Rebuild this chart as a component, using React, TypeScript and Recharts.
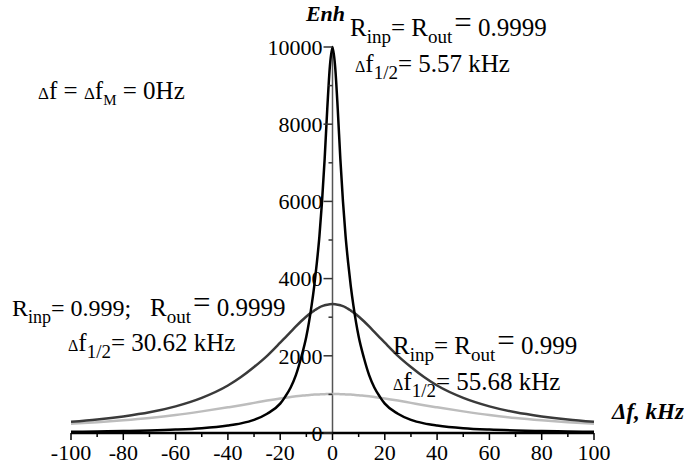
import { LineChart, Line, XAxis, YAxis, ReferenceLine } from "recharts";

// detuning, kHz
const freq = [
  -100, -90, -80, -70, -60, -50, -40, -35, -30, -25, -20, -18, -16, -14, -12, -10, -8, -7, -6, -5, -4, -3, -2, -1,
  0, 1, 2, 3, 4, 5, 6, 7, 8, 10, 12, 14, 16, 18, 20, 25, 30, 35, 40, 50, 60, 70, 80, 90, 100,
];

// Rinp = Rout = 0.9999
const enhHigh = [
  32, 40, 50, 65, 88, 125, 195, 250, 340, 500, 760, 950, 1180, 1500, 1950, 2500, 3300, 3800, 4400, 5100, 6000, 7100, 8400, 9500,
  10000, 9500, 8400, 7100, 6000, 5100, 4400, 3800, 3300, 2500, 1950, 1500, 1180, 950, 760, 500, 340, 250, 195, 125, 88, 65, 50, 40, 32,
];

// Rinp = 0.999, Rout = 0.9999
const enhMixed = [
  290, 350, 430, 535, 690, 910, 1230, 1450, 1710, 2000, 2340, 2480, 2620, 2760, 2895, 3020, 3125, 3170, 3215, 3255, 3285, 3310, 3325, 3335,
  3340, 3335, 3325, 3310, 3285, 3255, 3215, 3170, 3125, 3020, 2895, 2760, 2620, 2480, 2340, 2000, 1710, 1450, 1230, 910, 690, 535, 430, 350, 290,
];

// Rinp = Rout = 0.999
const enhLow = [
  240, 280, 330, 390, 465, 560, 665, 720, 780, 840, 895, 915, 935, 950, 965, 980, 990, 995, 998, 1000, 1003, 1006, 1008, 1009,
  1010, 1009, 1008, 1006, 1003, 1000, 998, 995, 990, 980, 965, 950, 935, 915, 895, 840, 780, 720, 665, 560, 465, 390, 330, 280, 240,
];

const xTicks = [-100, -90, -80, -70, -60, -50, -40, -30, -20, -10, 0, 10, 20, 30, 40, 50, 60, 70, 80, 90, 100];
const yTicks = [0, 1000, 2000, 3000, 4000, 5000, 6000, 7000, 8000, 9000, 10000];

const data = freq.map((f, i) => ({ f, high: enhHigh[i], mixed: enhMixed[i], low: enhLow[i] }));

const W = 684;
const H = 465;
const margin = { top: 47, right: 90, bottom: 0, left: 70 };
const Y_AXIS_W = 1;
const AXIS_X = margin.left + Y_AXIS_W + (W - margin.left - Y_AXIS_W - margin.right) / 2;
const SERIF = "Liberation Serif";

const XTick = ({ x, y, payload }: any) => {
  const major = payload.value % 20 === 0;
  return (
    <g>
      <line x1={x} x2={x} y1={y} y2={y + (major ? 7 : 4)} stroke="#000" strokeWidth={1.5} />
      {major && (
        <text x={x} y={y + 27} textAnchor="middle" fontSize={22} style={{ fontFamily: SERIF }} fill="#000">
          {payload.value}
        </text>
      )}
    </g>
  );
};

const YTick = ({ y, payload }: any) => {
  const major = payload.value % 2000 === 0;
  return (
    <g>
      <line x1={AXIS_X - (major ? 9 : 4)} x2={AXIS_X} y1={y} y2={y} stroke="#333" strokeWidth={1.5} />
      {major && (
        <text x={AXIS_X - 10} y={y} dy="0.35em" textAnchor="end" fontSize={22} style={{ fontFamily: SERIF }} fill="#000">
          {payload.value}
        </text>
      )}
    </g>
  );
};

// "Δf" followed by a subscript
const DeltaF = ({ sub }: { sub: string }) => (
  <>
    <tspan fontSize={16}>Δ</tspan>f<tspan fontSize={19} dy={7}>{sub}</tspan>
  </>
);

function Notes() {
  return (
    <svg width={W} height={H} style={{ position: "absolute", left: 0, top: 0, pointerEvents: "none", fontFamily: SERIF }} fill="#000">
      <text x={AXIS_X - 7} y={21} textAnchor="middle" fontSize={22} fontWeight="bold" fontStyle="italic">Enh</text>
      <text x={612} y={419} fontSize={23} fontWeight="bold" fontStyle="italic">Δf, kHz</text>

      <text x={350} y={36} fontSize={25}>
        R<tspan fontSize={19} dy={7}>inp</tspan>
        <tspan dy={-7}>= R</tspan>
        <tspan fontSize={19} dy={7}>out</tspan>
        <tspan fontSize={31} dy={-10} dx={2}>=</tspan>
        <tspan dy={3}> 0.9999</tspan>
      </text>
      <text x={355} y={72} fontSize={25}>
        <DeltaF sub="1/2" />
        <tspan dy={-7}>= 5.57 kHz</tspan>
      </text>

      <text x={38} y={99} fontSize={25}>
        <tspan fontSize={17}>Δ</tspan>f = <tspan fontSize={17}>Δ</tspan>f<tspan fontSize={15} dy={6}>M</tspan>
        <tspan dy={-6}> = 0Hz</tspan>
      </text>

      <text x={12} y={316} fontSize={24}>
        R<tspan fontSize={18} dy={7}>inp</tspan>
        <tspan dy={-7}>= 0.999;</tspan>
      </text>
      <text x={150} y={316} fontSize={25}>
        R<tspan fontSize={19} dy={7}>out</tspan>
        <tspan fontSize={31} dy={-10} dx={2}>=</tspan>
        <tspan dy={3}> 0.9999</tspan>
      </text>
      <text x={68} y={351} fontSize={25}>
        <DeltaF sub="1/2" />
        <tspan dy={-7}>= 30.62 kHz</tspan>
      </text>

      <text x={393} y={354} fontSize={25}>
        R<tspan fontSize={19} dy={7}>inp</tspan>
        <tspan dy={-7}>= R</tspan>
        <tspan fontSize={19} dy={7}>out</tspan>
        <tspan fontSize={31} dy={-10} dx={2}>=</tspan>
        <tspan dy={3}> 0.999</tspan>
      </text>
      <text x={393} y={390} fontSize={25}>
        <DeltaF sub="1/2" />
        <tspan dy={-7}>= 55.68 kHz</tspan>
      </text>
    </svg>
  );
}

export default function App() {
  return (
    <div style={{ position: "absolute", left: 0, top: 0, width: W, height: H, background: "#fff", fontFamily: SERIF }}>
      <LineChart width={W} height={H} data={data} margin={margin} style={{ fontFamily: SERIF }}>
        <XAxis
          dataKey="f"
          type="number"
          domain={[-100, 100]}
          ticks={xTicks}
          interval={0}
          height={32}
          tickSize={0}
          tickMargin={0}
          tickLine={false}
          axisLine={{ stroke: "#000", strokeWidth: 2.5 }}
          tick={<XTick />}
        />
        <YAxis
          type="number"
          domain={[0, 10000]}
          ticks={yTicks}
          interval={0}
          width={Y_AXIS_W}
          tickSize={0}
          tickLine={false}
          axisLine={false}
          tick={<YTick />}
        />
        <ReferenceLine x={0} stroke="#555" strokeWidth={1.5} />
        <Line type="monotone" dataKey="low" stroke="#bdbdbd" strokeWidth={2.5} dot={false} isAnimationActive={false} />
        <Line type="monotone" dataKey="mixed" stroke="#3a3a3a" strokeWidth={2.5} dot={false} isAnimationActive={false} />
        <Line type="monotone" dataKey="high" stroke="#000" strokeWidth={2.5} dot={false} isAnimationActive={false} />
      </LineChart>
      <Notes />
    </div>
  );
}
